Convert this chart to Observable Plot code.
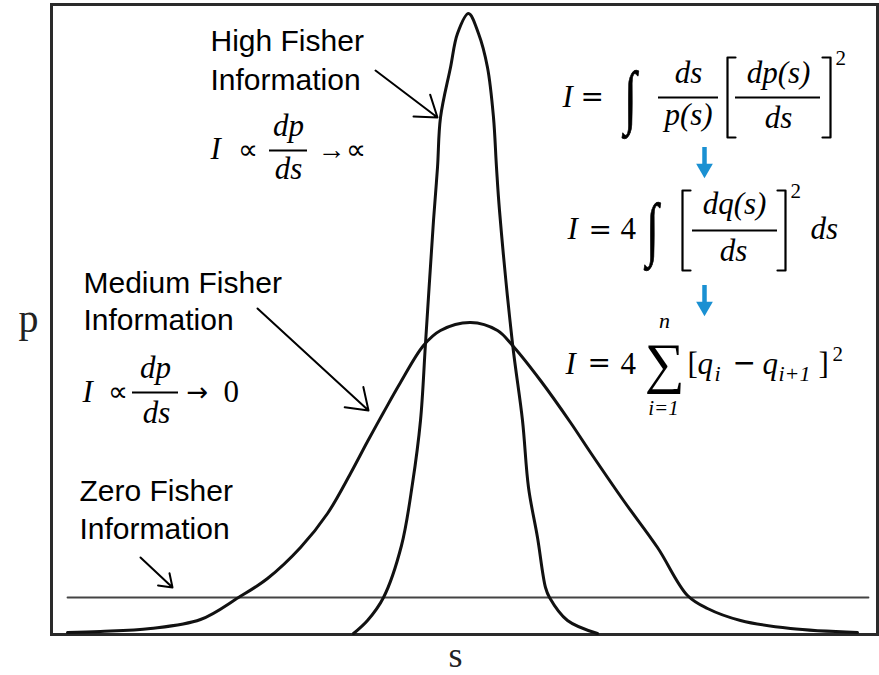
<!DOCTYPE html>
<html><head><meta charset="utf-8">
<script src="https://cdn.jsdelivr.net/npm/d3@7"></script>
<script src="https://cdn.jsdelivr.net/npm/@observablehq/plot@0.6"></script>
<style>body{margin:0;background:#fff} svg{display:block}</style>
</head><body><div id="chart"></div>
<script>
// ---- data (s = signal, p = probability, arbitrary units) ----
const wideS = [-4.03,-3.70,-3.20,-2.70,-2.32,-2.03,-1.70,-1.43,-1.20,-1.03,-0.87,-0.70,-0.47,-0.30,0.00,0.27,0.42,0.70,1.00,1.20,1.53,1.87,2.17,2.37,2.70,3.20,3.87];
const wideP = [0.02,0.03,0.06,0.15,0.37,0.56,0.87,1.21,1.61,1.93,2.22,2.52,2.89,3.04,3.12,3.04,2.89,2.54,2.12,1.82,1.34,0.87,0.39,0.26,0.14,0.06,0.02];
const narrowS = [-1.17,-1.03,-0.87,-0.69,-0.58,-0.50,-0.45,-0.37,-0.33,-0.30,-0.20,-0.13,-0.02,0.08,0.17,0.23,0.26,0.29,0.42,0.52,0.58,0.67,0.75,0.79,0.97,1.27];
const narrowP = [0.01,0.14,0.37,0.89,1.51,2.14,2.91,4.14,4.67,5.17,5.67,6.01,6.21,6.01,5.67,5.17,4.67,4.24,2.91,2.14,1.47,0.97,0.47,0.37,0.14,0.01];
const zeroS = [-4.03, 3.98];
const zeroP = [0.37, 0.37];
const labelLines = ["High Fisher", "Information", "Medium Fisher", "Information", "Zero Fisher", "Information"];
const axisLabels = ["p", "s"];

const wide = wideS.map((s, i) => ({s, p: wideP[i]}));
const narrow = narrowS.map((s, i) => ({s, p: narrowP[i]}));
const zero = zeroS.map((s, i) => ({s, p: zeroP[i]}));

const MATH = "Liberation Serif, Times New Roman, serif";
const SANS = "Liberation Sans, Arial, sans-serif";
const SYM = "DejaVu Sans, sans-serif";

function t(str, s, p, o = {}) {
  return Plot.text([str], {x: s, y: p, text: d => d, textAnchor: "start", lineAnchor: "bottom",
    fontFamily: MATH, fontStyle: "italic", fontSize: 31, fill: "#000", ...o});
}
const up = {fontStyle: "normal"};
const mid = {lineAnchor: "middle"};
const ctr = {textAnchor: "middle"};
function bar(p, a, b) { return Plot.ruleY([p], {x1: a, x2: b, stroke: "#000", strokeWidth: 2.2}); }
function bracket(s, top, bot, w) {
  return Plot.line([[s + w, top], [s, top], [s, bot], [s + w, bot]],
    {x: d => d[0], y: d => d[1], stroke: "#000", strokeWidth: 2.2, curve: "linear"});
}
function blueArrow(s, p1, p2, pHead) {
  return [
    Plot.ruleX([s], {y1: p1, y2: p2, stroke: "#1a90d2", strokeWidth: 4.5}),
    Plot.dot([s], {x: d => d, y: pHead, symbol: "triangle", rotate: 180, r: 6.2, fill: "#1a90d2", stroke: "none"})
  ];
}
const lab = {fontFamily: SANS, fontStyle: "normal", fontSize: 30};
const integral = {...up, ...mid, fontFamily: MATH, fontSize: 50, stroke: "#000", strokeWidth: 0.6, className: "bigop"};

const chart = Plot.plot({
  width: 879, height: 675,
  marginLeft: 51, marginRight: 2, marginTop: 4, marginBottom: 41,
  x: {domain: [-4.19, 4.07], axis: null},
  y: {domain: [0, 6.30], axis: null},
  style: {background: "#fff", overflow: "visible"},
  marks: [
    Plot.frame({stroke: "#2a2a2a", strokeWidth: 3}),
    Plot.line(zero, {x: "s", y: "p", stroke: "#444", strokeWidth: 1.8}),
    Plot.line(wide, {x: "s", y: "p", stroke: "#111", strokeWidth: 3, curve: "catmull-rom"}),
    Plot.line(narrow, {x: "s", y: "p", stroke: "#111", strokeWidth: 3, curve: "catmull-rom"}),
    // pointer arrows
    Plot.arrow([0], {x1: -0.95, y1: 5.64, x2: -0.33, y2: 5.17, stroke: "#000", strokeWidth: 2, headLength: 18, headAngle: 70}),
    Plot.arrow([0], {x1: -2.13, y1: 3.26, x2: -1.02, y2: 2.24, stroke: "#000", strokeWidth: 2, headLength: 18, headAngle: 70}),
    Plot.arrow([0], {x1: -3.30, y1: 0.77, x2: -2.98, y2: 0.47, stroke: "#000", strokeWidth: 2, headLength: 18, headAngle: 70}),
    // labels
    t(labelLines[0], -2.60, 5.84, lab),
    t(labelLines[1], -2.60, 5.45, lab),
    t(labelLines[2], -3.87, 3.42, lab),
    t(labelLines[3], -3.87, 3.05, lab),
    t(labelLines[4], -3.91, 1.34, lab),
    t(labelLines[5], -3.91, 0.96, lab),
    t(axisLabels[0], -4.42, 3.03, {...up, fontSize: 40, textAnchor: "middle", fill: "#222"}),
    t(axisLabels[1], -0.15, -0.32, {...up, fontSize: 36, textAnchor: "middle", fill: "#222"}),
    // Eq A: I ∝ dp/ds →∝
    t("I", -2.60, 4.76),
    t("∝", -2.33, 4.84, {...up, ...mid, fontFamily: SANS, fontSize: 28}),
    bar(4.84, -2.01, -1.63),
    t("dp", -1.82, 4.99, ctr),
    t("ds", -1.82, 4.56, ctr),
    t("→∝", -1.53, 4.84, {...up, ...mid, fontFamily: SANS, fontSize: 28}),
    // Eq B: I ∝ dp/ds → 0
    t("I", -3.88, 2.33),
    t("∝", -3.63, 2.42, {...up, ...mid, fontFamily: SANS, fontSize: 28}),
    bar(2.42, -3.38, -2.92),
    t("dp", -3.15, 2.57, ctr),
    t("ds", -3.14, 2.12, ctr),
    t("→", -2.84, 2.42, {...up, ...mid, fontFamily: SYM, fontSize: 26}),
    t("0", -2.47, 2.33, up),
    // Eq 1
    t("I", 0.92, 5.28),
    t("=", 1.10, 5.37, {...up, ...mid, fontFamily: SYM, fontSize: 28}),
    t("∫", 1.53, 5.37, integral),
    t("ds", 2.18, 5.52, ctr),
    bar(5.37, 1.88, 2.48),
    t("p(s)", 2.18, 5.10, ctr),
    bracket(2.57, 5.77, 4.97, 0.08),
    t("dp(s)", 3.08, 5.52, ctr),
    bar(5.37, 2.65, 3.50),
    t("ds", 3.08, 5.07, ctr),
    bracket(3.60, 5.77, 4.97, -0.08),
    t("2", 3.65, 5.70, {...up, fontSize: 21}),
    ...blueArrow(2.34, 4.87, 4.68, 4.66),
    // Eq 2
    t("I", 0.97, 3.96),
    t("=", 1.18, 4.04, {...up, ...mid, fontFamily: SYM, fontSize: 28}),
    t("4", 1.50, 3.96, up),
    t("∫", 1.75, 4.05, integral),
    bracket(2.12, 4.44, 3.64, 0.08),
    t("dq(s)", 2.64, 4.21, ctr),
    bar(4.04, 2.22, 3.07),
    t("ds", 2.63, 3.74, ctr),
    bracket(3.15, 4.44, 3.64, -0.08),
    t("2", 3.20, 4.37, {...up, fontSize: 21}),
    t("ds", 3.40, 3.96),
    ...blueArrow(2.34, 3.49, 3.30, 3.28),
    // Eq 3
    t("I", 0.95, 2.61),
    t("=", 1.17, 2.71, {...up, ...mid, fontFamily: SYM, fontSize: 28}),
    t("4", 1.50, 2.61, up),
    t("∑", 1.74, 2.70, {...up, ...mid, fontSize: 56}),
    t("n", 1.94, 3.07, {...ctr, fontSize: 22}),
    t("i=1", 1.93, 2.20, {...ctr, fontSize: 21}),
    t("[", 2.17, 2.61, up),
    t("q", 2.27, 2.61),
    t("i", 2.44, 2.54, {fontSize: 22}),
    t("−", 2.62, 2.71, {...up, ...mid, fontFamily: SYM, fontSize: 28}),
    t("q", 2.92, 2.61),
    t("i+1", 3.08, 2.54, {fontSize: 22}),
    t("]", 3.48, 2.61, up),
    t("2", 3.62, 2.74, {...up, fontSize: 21})
  ]
});
document.getElementById("chart").append(chart);

// stretch the integral signs vertically, as display-style integrals are drawn
chart.querySelectorAll("g.bigop text, .bigop text, text.bigop").forEach(node => {
  const g = document.createElementNS("http://www.w3.org/2000/svg", "g");
  node.parentNode.insertBefore(g, node);
  g.appendChild(node);
  const b = g.getBBox();
  const cx = b.x + b.width / 2, cy = b.y + b.height / 2;
  g.setAttribute("transform", `translate(${cx},${cy}) scale(0.9,1.4) translate(${-cx},${-cy})`);
});
</script>
</body></html>
